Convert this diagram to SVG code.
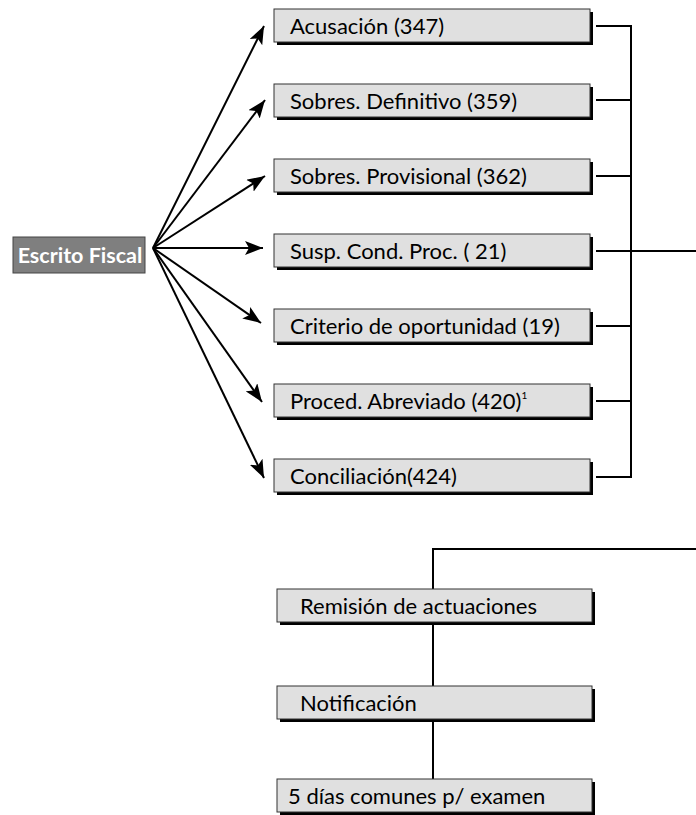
<svg xmlns="http://www.w3.org/2000/svg" width="696" height="815" viewBox="0 0 696 815">
<style>
.box{fill:#e0e0e0;stroke:#333;stroke-width:1}
.sh{fill:#000}
.t{font-family:Lato,"Open Sans","DejaVu Sans",sans-serif;font-size:22px;fill:#000}
.c{fill:none;stroke:#000;stroke-width:2}
.a{fill:none;stroke:#000;stroke-width:2;marker-end:url(#ah)}
</style>
<defs>
<marker id="ah" markerUnits="userSpaceOnUse" markerWidth="20" markerHeight="14" refX="18" refY="7" orient="auto">
<path d="M0,0 L18,7 L0,14 L4,7 z" fill="#000"/>
</marker>
</defs>
<g id="connectors">
<line class="a" x1="153" y1="248" x2="264" y2="26"/>
<line class="a" x1="153" y1="248" x2="265" y2="100"/>
<line class="a" x1="153" y1="248" x2="265" y2="176"/>
<line class="a" x1="153" y1="248" x2="263" y2="248"/>
<line class="a" x1="153" y1="248" x2="261" y2="323"/>
<line class="a" x1="153" y1="248" x2="262" y2="402"/>
<line class="a" x1="153" y1="248" x2="264" y2="478"/>
<path class="c" d="M596,26 H631 V477 H596 M596,100 H631 M596,176 H631 M596,251 H696 M596,326 H631 M596,401 H631"/>
<path class="c" d="M696,549 H433 V589 M433,622 V686 M433,719 V779"/>
</g>
<g id="escrito">
<rect x="13" y="237" width="132" height="36" fill="#7f7f7f" stroke="#444" stroke-width="1"/>
<text x="80" y="263" text-anchor="middle" font-family="Lato,'Open Sans','DejaVu Sans',sans-serif" font-size="21.5" font-weight="bold" fill="#fff">Escrito Fiscal</text>
</g>
<g id="acusacion">
<rect class="sh" x="277" y="12" width="316" height="33"/>
<rect class="box" x="274" y="9" width="316" height="33"/>
<text class="t" x="290" y="34">Acusación (347)</text>
</g>
<g id="sobres-def">
<rect class="sh" x="277" y="87" width="316" height="33"/>
<rect class="box" x="274" y="84" width="316" height="33"/>
<text class="t" x="290" y="109">Sobres. Definitivo (359)</text>
</g>
<g id="sobres-prov">
<rect class="sh" x="277" y="162" width="316" height="33"/>
<rect class="box" x="274" y="159" width="316" height="33"/>
<text class="t" x="290" y="184">Sobres. Provisional (362)</text>
</g>
<g id="susp">
<rect class="sh" x="277" y="237" width="316" height="33"/>
<rect class="box" x="274" y="234" width="316" height="33"/>
<text class="t" x="290" y="259">Susp. Cond. Proc. ( 21)</text>
</g>
<g id="criterio">
<rect class="sh" x="277" y="312" width="316" height="33"/>
<rect class="box" x="274" y="309" width="316" height="33"/>
<text class="t" x="290" y="334">Criterio de oportunidad (19)</text>
</g>
<g id="proced">
<rect class="sh" x="277" y="387" width="316" height="33"/>
<rect class="box" x="274" y="384" width="316" height="33"/>
<text class="t" x="290" y="409">Proced. Abreviado (420)<tspan font-size="10" dy="-10">1</tspan></text>
</g>
<g id="conciliacion">
<rect class="sh" x="277" y="462" width="316" height="33"/>
<rect class="box" x="274" y="459" width="316" height="33"/>
<text class="t" x="290" y="484">Conciliación(424)</text>
</g>
<g id="remision">
<rect class="sh" x="280" y="592" width="315" height="33"/>
<rect class="box" x="277" y="589" width="315" height="33"/>
<text class="t" x="300" y="614">Remisión de actuaciones</text>
</g>
<g id="notificacion">
<rect class="sh" x="280" y="689" width="315" height="33"/>
<rect class="box" x="277" y="686" width="315" height="33"/>
<text class="t" x="300" y="711">Notificación</text>
</g>
<g id="cinco-dias">
<rect class="sh" x="280" y="782" width="315" height="33"/>
<rect class="box" x="277" y="779" width="315" height="33"/>
<text class="t" x="288" y="804">5 días comunes p/ examen</text>
</g>
</svg>
